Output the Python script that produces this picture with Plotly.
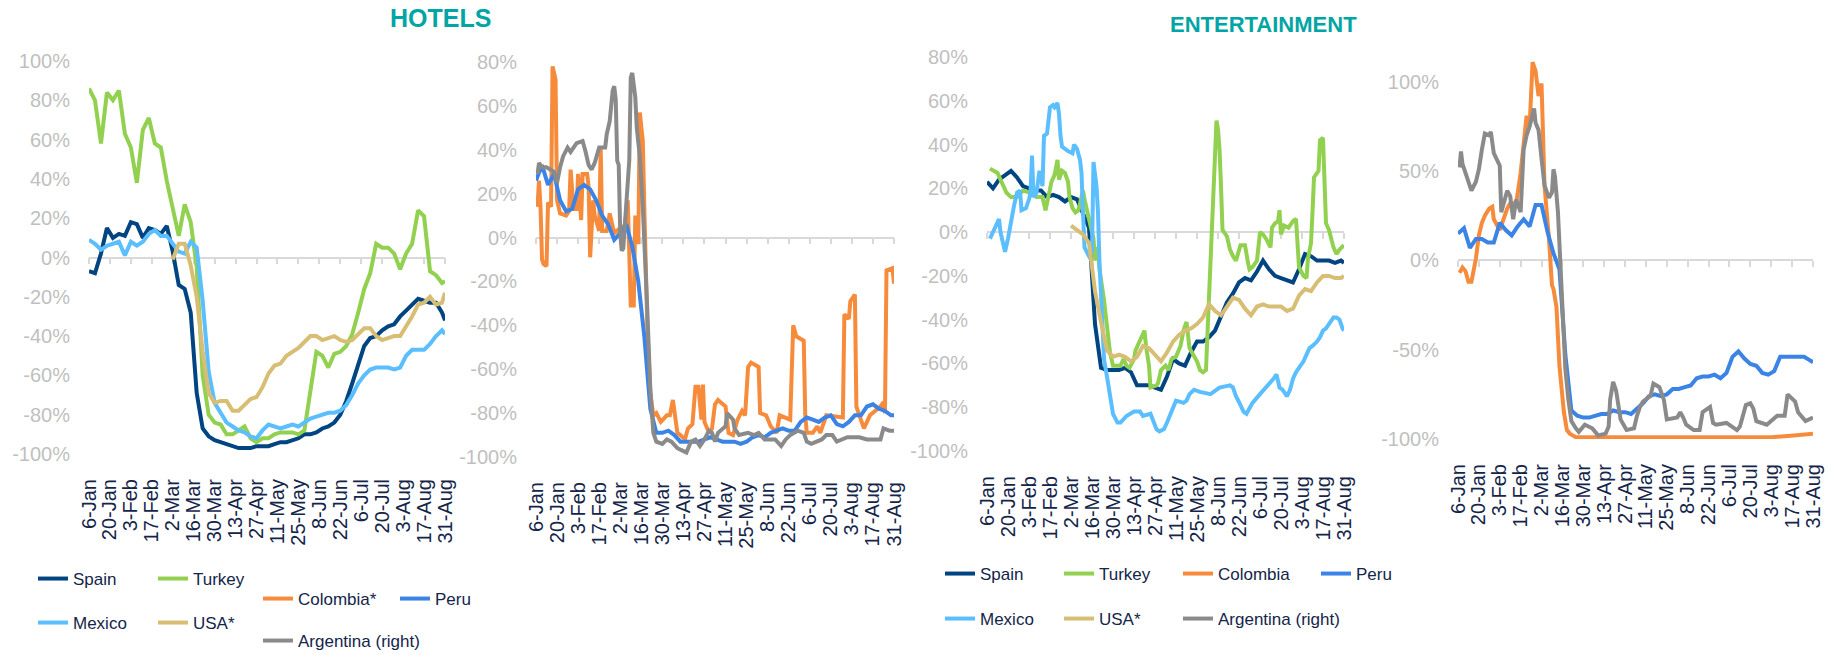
import pandas as pd
import plotly.graph_objects as go

W, H = 1834, 655
START = pd.Timestamp("2020-01-06")
END = pd.Timestamp("2020-08-31")

# common sampling grid: days after 6-Jan every 4 days, last point 31-Aug
grid_days = list(range(0, 237, 4)) + [238]

tick_labels = ["6-Jan", "20-Jan", "3-Feb", "17-Feb", "2-Mar", "16-Mar", "30-Mar",
               "13-Apr", "27-Apr", "11-May", "25-May", "8-Jun", "22-Jun", "6-Jul",
               "20-Jul", "3-Aug", "17-Aug", "31-Aug"]
tick_dates = pd.date_range(START, END, freq="14D")

# ---------------- HOTELS, left panel (% change) ----------------
hot_spain = [-7, -8, 2, 15, 10, 12, 11, 18, 17, 10, 15, 14, 12, 16, 3, -14, -16, -28, -69, -87,
             -91, -93, -94, -95, -96, -97, -97, -97, -96, -96, -96, -95, -94, -94, -93, -92, -90, -90, -89, -87,
             -86, -84, -80, -73, -64, -54, -45, -41, -40, -37, -35, -34, -30, -27, -24, -21, -22, -23, -23, -28,
             -32]
hot_turkey = [86, 80, 58, 84, 80, 85, 63, 56, 38, 65, 71, 58, 56, 39, 25, 11, 27, 18, -5, -60,
              -80, -84, -85, -90, -90, -88, -86, -92, -94, -92, -92, -90, -89, -89, -89, -90, -88, -68, -48, -50,
              -56, -49, -48, -45, -39, -28, -16, -8, 7, 5, 5, 2, -6, 2, 7, 24, 21, -7, -9, -13,
              -12]
hot_mexico = [9, 7, 4, 6, 7, 8, 1, 8, 6, 8, 12, 14, 11, 11, 7, 3, 2, 8, 5, -22,
              -58, -74, -79, -84, -86, -88, -89, -91, -92, -88, -85, -86, -87, -86, -85, -86, -84, -82, -81, -80,
              -79, -79, -78, -75, -70, -64, -60, -57, -56, -56, -56, -57, -56, -50, -47, -47, -47, -44, -40, -37,
              -39]
hot_usa = [None] * 14 + [-1, 7, 7, -4, -20, -48,
           -69, -74, -73, -73, -78, -78, -75, -72, -71, -66, -59, -55, -54, -50, -48, -46, -43, -40, -40, -42,
           -41, -40, -42, -43, -42, -39, -36, -36, -40, -42, -41, -40, -40, -35, -30, -24, -23, -20, -24, -23,
           -18]

# ---------------- HOTELS, right panel ----------------
hot_colombia_days = [1, 2, 3, 4, 5, 7, 8, 10, 11, 13, 14, 16, 20, 22, 23, 25, 27, 28, 30, 31,
                     34, 35, 36, 38, 39, 42, 43, 44, 47, 49, 52, 57, 59, 61, 63, 65, 66, 68, 69, 71,
                     72, 74, 76, 78, 80, 83, 87, 89, 91, 94, 96, 99, 101, 104, 106, 108, 110, 111, 112, 115,
                     117, 119, 121, 126, 128, 131, 134, 137, 139, 141, 143, 148, 149, 153, 156, 160, 162, 169, 171, 173,
                     178, 179, 180, 184, 187, 189, 193, 204, 205, 208, 209, 212, 213, 218, 222, 229, 231, 232, 233, 237,
                     238]
hot_colombia = [14, 26, 14, -10, -12, -13, 16, 14, 78, 72, 17, 11, 10, 12, 31, 13, 13, 29, 8, 29,
                29, 23, -9, 17, 10, 3, 41, 3, 3, 11, 2, 5, 5, 17, -31, -31, 10, -3, 57, 44,
                14, -40, -71, -81, -80, -84, -81, -81, -74, -89, -90, -92, -87, -85, -68, -68, -83, -67, -84, -89,
                -87, -76, -74, -77, -89, -90, -83, -79, -81, -59, -57, -59, -80, -81, -86, -89, -81, -83, -40, -45,
                -47, -81, -89, -89, -86, -89, -81, -82, -35, -37, -29, -26, -77, -87, -81, -77, -75, -80, -15, -14,
                -21]
hot_peru = [26, 33, 24, 29, 17, 12, 13, 22, 24, 22, 17, 10, 6, -1, 2, 6, -4, -20, -45, -78,
            -89, -89, -88, -90, -93, -93, -93, -93, -92, -91, -92, -93, -93, -93, -94, -93, -91, -90, -91, -89,
            -88, -87, -88, -88, -84, -82, -83, -84, -82, -81, -85, -86, -84, -81, -81, -77, -76, -78, -79, -81,
            -81]
hot_argentina_days = [1, 2, 4, 7, 12, 14, 16, 18, 21, 23, 27, 31, 33, 35, 37, 39, 42, 46, 47, 49,
                      51, 52, 53, 54, 55, 56, 57, 58, 59, 61, 62, 63, 64, 66, 67, 69, 71, 74, 76, 78,
                      80, 84, 87, 90, 94, 97, 100, 103, 106, 109, 112, 115, 117, 119, 121, 126, 127, 131, 132, 135,
                      141, 145, 148, 152, 159, 163, 166, 169, 174, 178, 180, 183, 190, 193, 197, 200, 207, 215, 220, 229,
                      231, 235, 238]
hot_argentina = [29, 34, 32, 32, 30, 25, 32, 37, 41, 39, 43, 44, 39, 33, 31, 34, 41, 41, 47, 53,
                 67, 69, 63, 35, 33, 2, -6, -5, 5, 29, 35, 73, 75, 64, 50, 37, 14, -33, -69, -89,
                 -93, -94, -92, -93, -96, -97, -98, -93, -92, -95, -92, -88, -89, -93, -89, -86, -80, -83, -87, -90,
                 -89, -90, -89, -92, -92, -95, -92, -90, -88, -89, -93, -94, -92, -90, -90, -93, -91, -91, -92, -92,
                 -87, -88, -88]

# ---------------- ENTERTAINMENT, left panel ----------------
ent_spain = [23, 20, 24, 26, 28, 25, 21, 20, 19, 19, 16, 17, 16, 14, 16, 15, 9, 2, -42, -62,
             -63, -63, -63, -62, -64, -70, -70, -70, -71, -72, -66, -58, -60, -61, -55, -50, -50, -48, -45, -39,
             -32, -28, -23, -21, -22, -18, -13, -17, -20, -21, -22, -23, -17, -10, -11, -13, -13, -13, -14, -13,
             -14]
ent_turkey_days = [2, 4, 7, 9, 11, 13, 16, 20, 24, 29, 33, 37, 39, 40, 41, 43, 45, 47, 48, 50,
                   52, 54, 55, 57, 59, 61, 64, 65, 68, 69, 71, 72, 73, 74, 75, 78, 80, 82, 84, 89,
                   91, 93, 95, 98, 99, 101, 103, 105, 106, 108, 109, 113, 114, 116, 119, 121, 123, 126, 129, 131,
                   133, 134, 135, 140, 142, 144, 146, 147, 150, 152, 153, 154, 155, 156, 157, 160, 162, 164, 166, 169,
                   172, 174, 175, 177, 180, 182, 184, 186, 189, 190, 192, 194, 195, 196, 198, 201, 204, 206, 207, 208,
                   211, 213, 214, 216, 217, 218, 221, 222, 224, 225, 226, 228, 231, 233, 235, 238]
ent_turkey = [29, 28, 27, 24, 21, 18, 16, 16, 19, 18, 16, 16, 10, 13, 18, 23, 26, 33, 24, 28,
              27, 23, 16, 11, 9, 10, 19, 15, 6, 3, -3, -13, -7, -8, -17, -31, -45, -55, -61, -61,
              -58, -61, -62, -58, -54, -51, -49, -45, -52, -61, -71, -70, -69, -63, -61, -63, -58, -57, -52, -45,
              -41, -48, -53, -59, -63, -64, -63, -46, 0, 33, 51, 47, 38, 21, 1, -2, -8, -11, -13, -6,
              -6, -14, -17, -16, -13, 0, -1, -3, -7, 2, 4, 5, 10, -1, 3, 2, 5, 6, -10, -16,
              -20, -21, -12, -5, 9, 25, 28, 42, 43, 27, 4, 1, -7, -10, -8, -6]
ent_mexico_days = [2, 4, 7, 8, 9, 11, 12, 14, 16, 18, 20, 22, 23, 26, 28, 29, 30, 31, 33, 34,
                   35, 37, 38, 40, 41, 42, 44, 45, 47, 48, 49, 50, 54, 57, 58, 60, 62, 63, 64, 65,
                   68, 70, 71, 73, 74, 75, 77, 78, 80, 82, 84, 87, 89, 93, 98, 102, 104, 109, 111, 113,
                   115, 118, 120, 122, 124, 126, 131, 133, 135, 138, 142, 149, 155, 162, 164, 166, 169, 171, 173, 175,
                   177, 182, 186, 189, 191, 193, 195, 197, 200, 202, 204, 206, 209, 211, 213, 215, 217, 220, 222, 224,
                   226, 228, 231, 233, 235, 237, 238]
ent_mexico = [-3, 0, 4, 6, 0, -7, -9, -3, 6, 12, 18, 19, 10, 11, 15, 18, 35, 16, 18, 24,
              28, 21, 44, 45, 51, 57, 58, 57, 59, 54, 44, 39, 37, 36, 40, 38, 33, 27, 9, -7,
              -11, -9, 32, 21, 9, -14, -43, -58, -66, -75, -83, -87, -87, -84, -82, -82, -84, -83, -86, -90,
              -91, -90, -87, -84, -80, -77, -78, -77, -74, -72, -73, -74, -71, -70, -71, -75, -79, -82, -83, -80,
              -78, -74, -71, -69, -67, -65, -71, -72, -75, -72, -67, -64, -61, -59, -56, -53, -52, -50, -48, -45,
              -44, -42, -39, -39, -40, -44, -45]
ent_usa = [None] * 14 + [3, 1, -1, -5, -27, -41,
           -54, -57, -56, -57, -59, -57, -52, -53, -56, -59, -55, -50, -47, -45, -44, -42, -39, -33, -36, -38,
           -34, -30, -31, -35, -38, -34, -33, -34, -34, -34, -36, -35, -29, -26, -27, -23, -20, -20, -21, -21,
           -20]

# ---------------- ENTERTAINMENT, right panel ----------------
ent_colombia_days = [1, 3, 5, 7, 9, 12, 14, 16, 18, 21, 23, 24, 28, 31, 33, 35, 39, 42, 44, 46,
                     48, 50, 52, 53, 54, 56, 57, 58, 61, 63, 64, 66, 68, 71, 73, 75, 79, 100, 140, 180,
                     210, 225, 238]
ent_colombia = [-7, -4, -6, -12, -12, 1, 14, 21, 25, 29, 30, 23, 17, 25, 29, 32, 32, 49, 64, 81,
                75, 111, 106, 98, 92, 99, 68, 42, 12, -14, -16, -26, -59, -85, -95, -97, -99, -99, -99, -99,
                -99, -98, -97]
ent_peru = [15, 18, 7, 12, 12, 10, 10, 21, 17, 14, 19, 23, 19, 31, 31, 16, 4, -5, -53, -84,
            -87, -88, -88, -87, -86, -86, -84, -85, -85, -86, -83, -80, -76, -75, -76, -75, -72, -72, -71, -70,
            -66, -65, -65, -64, -66, -63, -54, -51, -55, -58, -59, -63, -64, -62, -54, -54, -54, -54, -54, -56,
            -57]
ent_argentina_days = [1, 2, 3, 5, 7, 9, 12, 14, 16, 18, 21, 22, 24, 26, 28, 29, 31, 33, 35, 37,
                      39, 42, 44, 46, 48, 51, 52, 54, 56, 58, 61, 63, 64, 65, 67, 70, 72, 74, 76, 79,
                      81, 85, 90, 92, 94, 99, 101, 102, 104, 106, 109, 113, 118, 120, 122, 124, 129, 131, 135, 138,
                      140, 147, 149, 151, 153, 158, 162, 164, 169, 171, 173, 180, 187, 189, 191, 193, 196, 198, 200, 207,
                      214, 219, 221, 226, 228, 233, 238]
ent_argentina = [52, 61, 54, 49, 44, 39, 44, 51, 62, 71, 70, 72, 60, 57, 53, 27, 34, 39, 36, 23,
                 34, 27, 62, 70, 75, 85, 77, 73, 57, 42, 35, 38, 51, 47, 27, -22, -61, -78, -90, -94,
                 -96, -92, -94, -96, -98, -97, -93, -78, -68, -73, -89, -95, -94, -87, -82, -79, -76, -69, -71, -78,
                 -89, -88, -85, -88, -92, -95, -95, -85, -82, -91, -92, -91, -95, -93, -87, -81, -80, -83, -90, -92,
                 -87, -87, -75, -79, -85, -90, -88]

yticks_hot_left = list(range(-100, 101, 20))
yticks_hot_right = list(range(-100, 81, 20))
yticks_ent_left = list(range(-100, 81, 20))
yticks_ent_right = [-100, -50, 0, 50, 100]

# ---------------- styling ----------------
SPAIN, TURKEY, MEXICO, USA = "#004481", "#92D050", "#5BBEFF", "#D8BE75"
COLOMBIA, PERU, ARGENTINA = "#F78B3C", "#3B84E6", "#8A8A8A"
TEAL, NAVY, GREY_TXT, AXIS = "#02A5A5", "#14254A", "#BFBFBF", "#D9D9D9"
SANS = "Liberation Sans, Arial, sans-serif"


def to_dates(days):
    return [START + pd.Timedelta(days=d) for d in days]


# panel boxes in pixels: (left, right), (top, bottom), y range, y ticks
panels = [
    ((89, 445), (61, 454), (-100, 100), yticks_hot_left),
    ((536, 894), (62, 457), (-100, 80), yticks_hot_right),
    ((987, 1344), (57, 451), (-100, 80), yticks_ent_left),
    ((1458, 1813), (46, 439), (-100, 120), yticks_ent_right),
]

# panel, name, days, values, colour, legend block, legend entry width
series = [
    (1, "Spain", grid_days, hot_spain, SPAIN, "legend", 75),
    (1, "Turkey", grid_days, hot_turkey, TURKEY, "legend", 100),
    (1, "Mexico", grid_days, hot_mexico, MEXICO, "legend2", 75),
    (1, "USA*", grid_days, hot_usa, USA, "legend2", 100),
    (2, "Colombia*", hot_colombia_days, hot_colombia, COLOMBIA, "legend3", 92),
    (2, "Peru", grid_days, hot_peru, PERU, "legend3", 100),
    (2, "Argentina (right)", hot_argentina_days, hot_argentina, ARGENTINA, "legend4", 200),
    (3, "Spain", grid_days, ent_spain, SPAIN, "legend5", 74),
    (3, "Turkey", ent_turkey_days, ent_turkey, TURKEY, "legend5", 74),
    (3, "Mexico", ent_mexico_days, ent_mexico, MEXICO, "legend7", 74),
    (3, "USA*", grid_days, ent_usa, USA, "legend7", 74),
    (4, "Colombia", ent_colombia_days, ent_colombia, COLOMBIA, "legend5", 130),
    (4, "Peru", grid_days, ent_peru, PERU, "legend6", 100),
    (4, "Argentina (right)", ent_argentina_days, ent_argentina, ARGENTINA, "legend7", 200),
]

fig = go.Figure()
for k, name, days, vals, color, leg, lw in series:
    fig.add_trace(go.Scatter(
        x=to_dates(days), y=vals, name=name, mode="lines",
        line=dict(color=color, width=4),
        xaxis=f"x{k}", yaxis=f"y{k}", legend=leg, legendwidth=lw,
    ))

layout = {}
for k, ((x0, x1), (top, bot), (ymin, ymax), yt) in enumerate(panels, start=1):
    xdom = [x0 / W, x1 / W]
    ydom = [1 - bot / H, 1 - top / H]
    layout[f"xaxis{k}"] = dict(
        domain=xdom, anchor=f"y{k}", type="date", range=[START, END],
        tickmode="array", tickvals=tick_dates, ticktext=tick_labels, tickangle=-90,
        ticks="", showline=False, showgrid=False, zeroline=False, automargin=False,
        ticklabelstandoff=20, tickfont=dict(family=SANS, size=20, color=NAVY),
    )
    layout[f"yaxis{k}"] = dict(
        domain=ydom, anchor=f"x{k}", range=[ymin, ymax],
        tickmode="array", tickvals=yt, ticktext=[f"{v}%" for v in yt],
        ticks="", showline=False, showgrid=False, zeroline=False, automargin=False,
        ticklabelstandoff=18, tickfont=dict(family=SANS, size=20, color=GREY_TXT),
    )
    # axis line with tick marks crossing at 0%
    zero_pos = ydom[0] + (0 - ymin) / (ymax - ymin) * (ydom[1] - ydom[0])
    layout[f"xaxis{k + 4}"] = dict(
        overlaying=f"x{k}", anchor="free", position=zero_pos, type="date",
        range=[START, END], tickmode="array", tickvals=tick_dates,
        showticklabels=False, ticks="outside", ticklen=6, tickwidth=1.5, tickcolor=AXIS,
        showline=True, linecolor=AXIS, linewidth=1.5, showgrid=False, zeroline=False,
        automargin=False, layer="below traces",
    )
    # empty trace so the zero-line axis gets drawn
    fig.add_trace(go.Scatter(x=[START, END], y=[None, None], xaxis=f"x{k + 4}", yaxis=f"y{k}",
                             mode="lines", showlegend=False, hoverinfo="skip"))


def legend_at(x_px, y_px, entry):
    return dict(x=x_px / W, y=1 - y_px / H, xanchor="left", yanchor="middle",
                orientation="h", entrywidth=entry, entrywidthmode="pixels",
                itemwidth=30, bgcolor="rgba(0,0,0,0)",
                font=dict(family=SANS, size=17, color=NAVY))


layout.update(
    legend=legend_at(33, 579, 75),
    legend2=legend_at(33, 623, 75),
    legend3=legend_at(258, 599, 92),
    legend4=legend_at(258, 641, 92),
    legend5=legend_at(940, 574, 74),
    legend6=legend_at(1316, 574, 74),
    legend7=legend_at(940, 619, 74),
)

fig.update_layout(
    **layout,
    width=W, height=H, margin=dict(l=0, r=0, t=0, b=0, autoexpand=False),
    paper_bgcolor="white", plot_bgcolor="white",
    annotations=[
        dict(text="<b>HOTELS</b>", x=440 / W, y=1 - 18 / H, xref="paper", yref="paper",
             showarrow=False, xanchor="center", yanchor="middle",
             font=dict(family=SANS, size=25, color=TEAL)),
        dict(text="<b>ENTERTAINMENT</b>", x=1263 / W, y=1 - 25 / H, xref="paper", yref="paper",
             showarrow=False, xanchor="center", yanchor="middle",
             font=dict(family=SANS, size=22, color=TEAL)),
    ],
)

# drop the browser's default page margin so the figure sits at the window corner
fig.write_html("out.html", config={"displayModeBar": False},
               post_script="document.body.style.margin = '0';")
